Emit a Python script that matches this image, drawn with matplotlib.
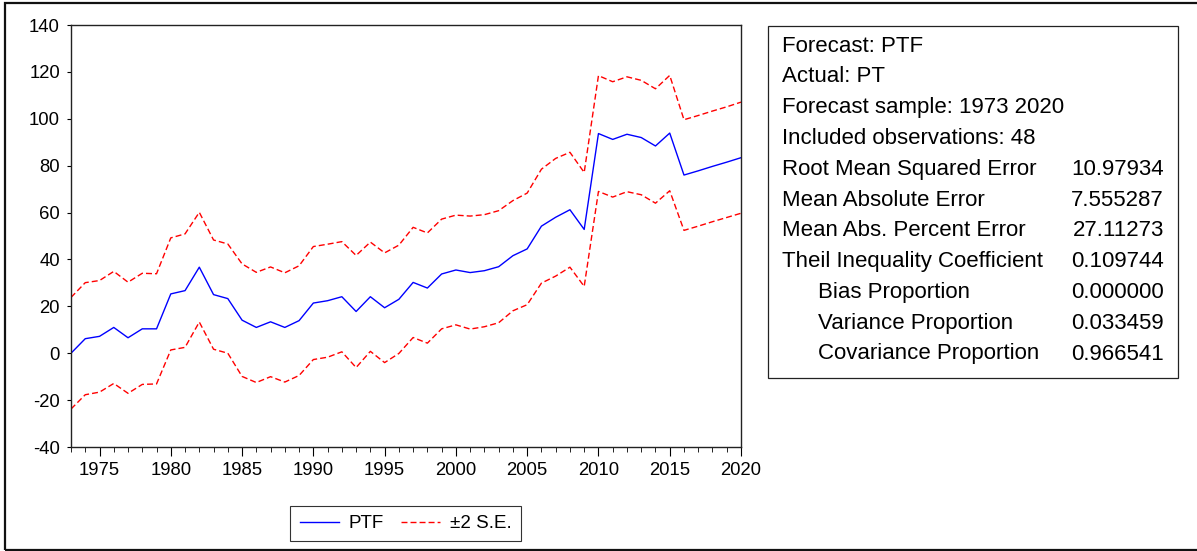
import numpy as np
import matplotlib.pyplot as plt
from matplotlib.patches import Rectangle

plt.rcParams['font.family'] = ['Liberation Sans', 'DejaVu Sans']
plt.rcParams['axes.unicode_minus'] = False

# forecast PTF and its standard error, 1973-2020
years = list(range(1973, 2021))
ptf = [0.0, 6.2, 7.2, 11.0, 6.6, 10.4, 10.4, 25.3, 26.7, 36.7,
       25.0, 23.3, 14.1, 11.0, 13.4, 11.0, 13.9, 21.4, 22.4, 24.1,
       17.8, 24.1, 19.4, 23.0, 30.2, 27.8, 33.8, 35.5, 34.4, 35.2,
       36.9, 41.6, 44.5, 54.2, 58.0, 61.2, 52.8, 93.7, 91.2, 93.4,
       92.0, 88.4, 93.9, 76.0, 77.8, 79.7, 81.5, 83.4]
se = [11.9, 11.95, 11.9, 11.95, 11.85, 11.85, 11.75, 11.95, 12.1, 11.7,
      11.65, 11.65, 12.0, 11.75, 11.7, 11.65, 11.7, 12.05, 12.05, 11.75,
      11.95, 11.65, 11.7, 11.55, 11.75, 11.75, 11.7, 11.7, 12.05, 11.95,
      11.95, 11.75, 11.9, 12.15, 12.55, 12.25, 12.15, 12.35, 12.3, 12.25,
      12.2, 12.2, 12.3, 11.8, 11.8, 11.8, 11.8, 11.85]

# forecast evaluation statistics
stat_head = ["Forecast: PTF", "Actual: PT", "Forecast sample: 1973 2020",
             "Included observations: 48"]
stat_names = ["Root Mean Squared Error", "Mean Absolute Error",
              "Mean Abs. Percent Error", "Theil Inequality Coefficient",
              "Bias Proportion", "Variance Proportion", "Covariance Proportion"]
stat_vals = ["10.97934", "7.555287", "27.11273", "0.109744",
             "0.000000", "0.033459", "0.966541"]
stat_indent = [False, False, False, False, True, True, True]

x = np.array(years)
f = np.array(ptf)
s = np.array(se)

W, H = 1197, 551
fig = plt.figure(figsize=(W / 100, H / 100), dpi=100)

# outer frame
fig.patches.append(Rectangle((5 / W, 1 - 549.5 / H), 1.1, 546.5 / H, transform=fig.transFigure,
                             fill=False, edgecolor='#111111', linewidth=1.6))

ax = fig.add_axes([71 / W, 1 - 447 / H, (741 - 71) / W, (447 - 25) / H])
ax.plot(x, f, color='#0000ff', linewidth=1.0, label='PTF')
ax.plot(x, f + 2 * s, color='#ff0000', linewidth=1.0, dashes=(4.3, 2.2), label='\u00b12 S.E.')
ax.plot(x, f - 2 * s, color='#ff0000', linewidth=1.0, dashes=(4.3, 2.2))

ax.set_xlim(1973, 2020)
ax.set_ylim(-40, 140)
ax.set_yticks(range(-40, 141, 20))
ax.set_xticks(range(1975, 2021, 5))
ax.set_xticks(years, minor=True)
ax.tick_params(axis='y', length=3, width=0.8, pad=5, labelsize=13.3)
ax.tick_params(axis='x', which='major', length=6.5, width=0.8, pad=4, labelsize=13.3)
ax.tick_params(axis='x', which='minor', length=3.5, width=0.6)
for sp in ax.spines.values():
    sp.set_linewidth(1.0)
    sp.set_color('#222222')

leg = ax.legend(loc='center', bbox_to_anchor=(405.5 / W, 1 - 523.5 / H),
                bbox_transform=fig.transFigure, ncol=2, fontsize=13.5,
                frameon=True, fancybox=False, handlelength=2.1, columnspacing=0.93,
                borderpad=0.5, handletextpad=0.5)
leg.get_frame().set_edgecolor('black')
leg.get_frame().set_linewidth(0.8)

# statistics box
fig.patches.append(Rectangle((768 / W, 1 - 378 / H), (1178 - 768) / W, (378 - 26) / H,
                             transform=fig.transFigure, fill=False,
                             edgecolor='#222222', linewidth=0.9))
row = 0
for t in stat_head:
    fig.text(782 / W, 1 - (46 + row * 30.8) / H, t, fontsize=16, va='center', ha='left')
    row += 1
for name, val, ind in zip(stat_names, stat_vals, stat_indent):
    xl = 818 if ind else 782
    y = 1 - (46 + row * 30.8) / H
    fig.text(xl / W, y, name, fontsize=16, va='center', ha='left')
    fig.text(1164 / W, y, val, fontsize=16, va='center', ha='right')
    row += 1

fig.savefig('out.png', dpi=100)
